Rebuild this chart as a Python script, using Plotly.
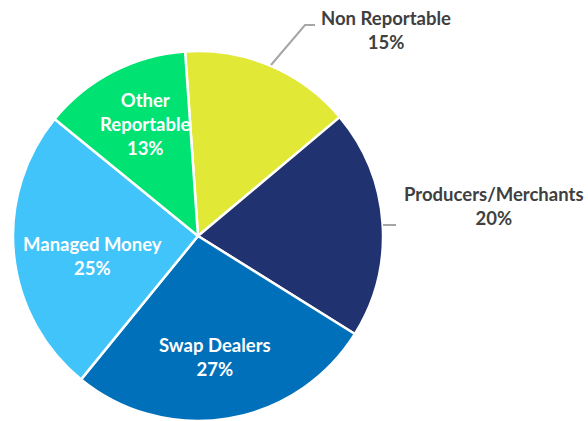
import plotly.graph_objects as go

labels = ["Non Reportable", "Producers/Merchants", "Swap Dealers", "Managed Money", "Other Reportable"]
label_lines = ["Non Reportable", "Producers/Merchants", "Swap Dealers", "Managed Money", "Other<br>Reportable"]
values = [15, 20, 27, 25, 13]
colors = ["#E2E836", "#20326F", "#0070BA", "#40C4FA", "#00E272"]

W, H = 588, 421

fig = go.Figure()
fig.add_trace(go.Pie(
    labels=labels, values=values, sort=False, direction="clockwise", rotation=-4,
    marker=dict(colors=colors, line=dict(color="white", width=2.5)),
    textinfo="none", hoverinfo="label+percent", showlegend=False,
    domain=dict(x=[13 / W, 383 / W], y=[0, 370 / H]),
))

def px(x, y):
    return x / W, 1 - y / H

# label positions (pixel centers) and styles
label_pos = [(386, 30), (494, 206), (215, 357), (92, 256), (145, 124)]
inside = [False, False, True, True, True]
total = sum(values)
for lab, v, (x, y), ins in zip(label_lines, values, label_pos, inside):
    xx, yy = px(x, y)
    fig.add_annotation(
        x=xx, y=yy, xref="paper", yref="paper", showarrow=False,
        text=f"{lab}<br>{round(100 * v / total)}%",
        font=dict(family="Lato", size=18.5, color="white" if ins else "#404040", weight="bold"),
        align="center", xanchor="center", yanchor="middle",
    )

# leader lines
leaders = [[(271, 65), (305, 25), (315, 25)], [(383, 225), (396, 225)]]
for pts in leaders:
    path = ""
    for i, (x, y) in enumerate(pts):
        xx, yy = px(x, y)
        path += ("M" if i == 0 else "L") + f"{xx},{yy} "
    fig.add_shape(type="path", path=path.strip(), xref="paper", yref="paper",
                  line=dict(color="#A6A6A6", width=2))

fig.update_layout(
    width=W, height=H, margin=dict(l=0, r=0, t=0, b=0),
    paper_bgcolor="white", plot_bgcolor="white",
)
fig.write_html("out.html")
